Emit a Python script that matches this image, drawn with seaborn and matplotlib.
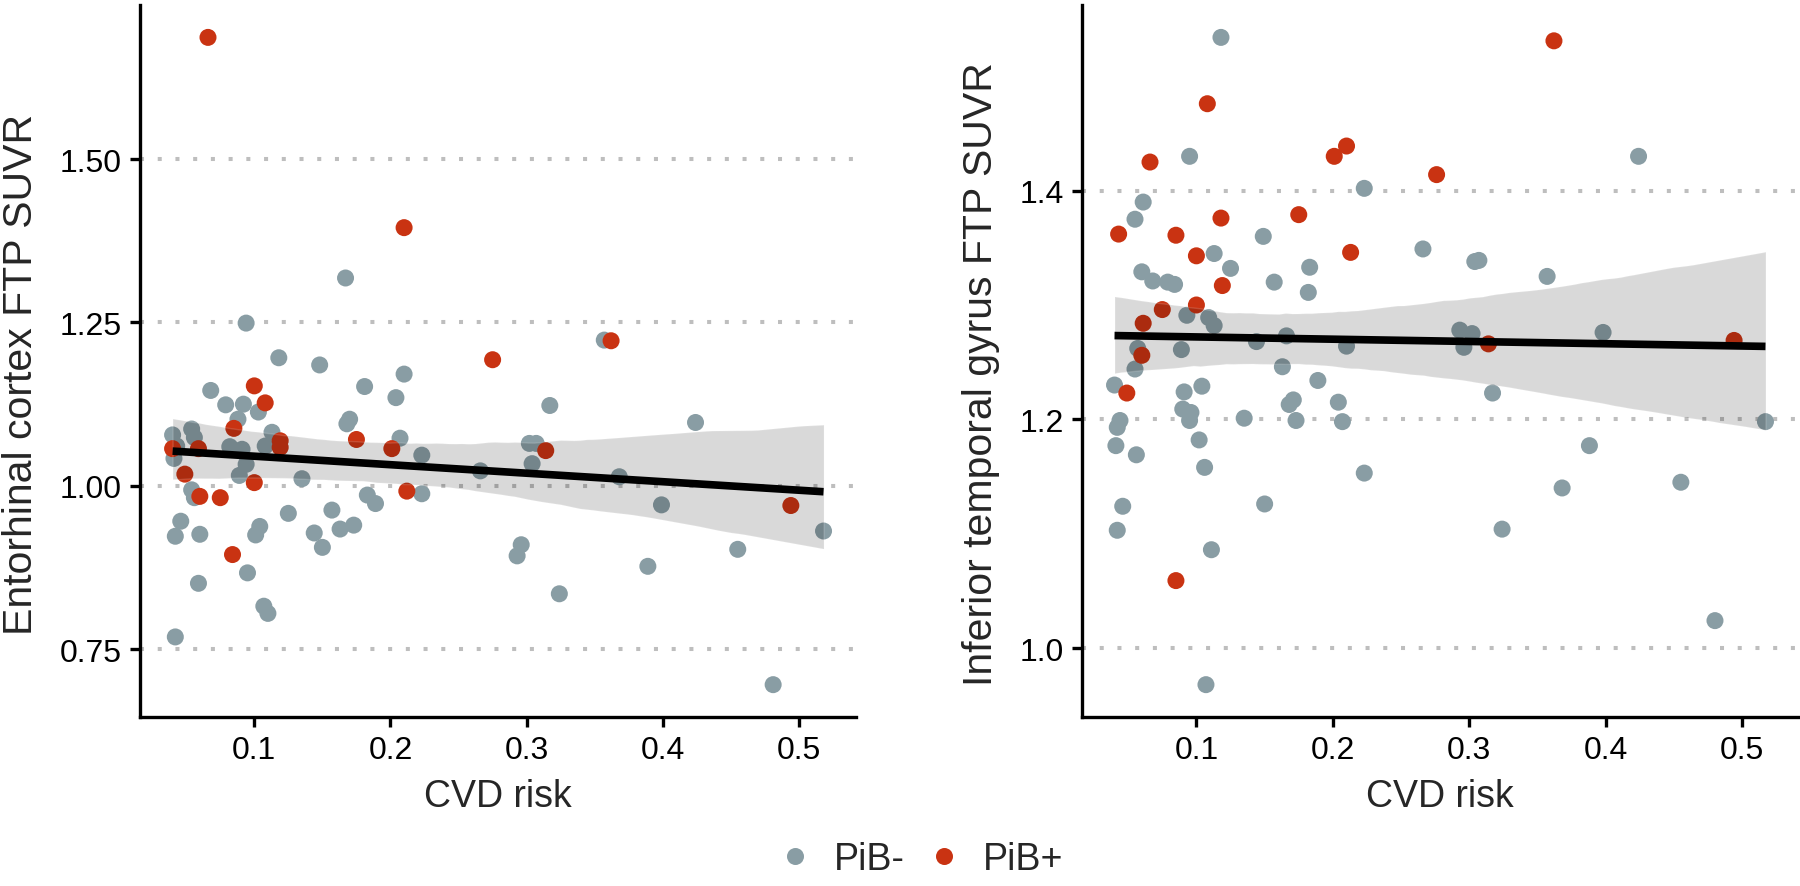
import matplotlib
matplotlib.use("Agg")
import matplotlib.pyplot as plt
import seaborn as sns
import numpy as np
import pandas as pd

# Entorhinal cortex panel
ec_neg_x = [0.167, 0.094, 0.118, 0.148, 0.210, 0.068, 0.079, 0.092, 0.103, 0.088,
            0.181, 0.204, 0.168, 0.170, 0.040, 0.054, 0.056, 0.043, 0.041, 0.082,
            0.091, 0.113, 0.108, 0.094, 0.089, 0.135, 0.054, 0.056, 0.046, 0.125,
            0.042, 0.060, 0.104, 0.101, 0.144, 0.150, 0.157, 0.163, 0.173, 0.183,
            0.189, 0.207, 0.223, 0.223, 0.266, 0.095, 0.059, 0.107, 0.110, 0.042,
            0.357, 0.317, 0.424, 0.302, 0.307, 0.304, 0.368, 0.399, 0.518, 0.296,
            0.293, 0.455, 0.389, 0.324, 0.481]
ec_neg_y = [1.318, 1.249, 1.196, 1.185, 1.171, 1.146, 1.124, 1.125, 1.113, 1.102,
            1.152, 1.135, 1.095, 1.102, 1.078, 1.087, 1.074, 1.061, 1.042, 1.060,
            1.056, 1.082, 1.061, 1.033, 1.016, 1.011, 0.994, 0.982, 0.946, 0.958,
            0.923, 0.926, 0.938, 0.925, 0.928, 0.906, 0.963, 0.934, 0.940, 0.986,
            0.973, 1.073, 1.047, 0.988, 1.023, 0.867, 0.851, 0.816, 0.805, 0.769,
            1.223, 1.123, 1.097, 1.065, 1.065, 1.034, 1.014, 0.971, 0.931, 0.910,
            0.893, 0.903, 0.877, 0.835, 0.696]
ec_pos_x = [0.066, 0.210, 0.275, 0.362, 0.100, 0.108, 0.085, 0.040, 0.059, 0.119,
            0.119, 0.049, 0.100, 0.060, 0.075, 0.175, 0.201, 0.212, 0.084, 0.314,
            0.494]
ec_pos_y = [1.686, 1.395, 1.193, 1.222, 1.153, 1.127, 1.088, 1.057, 1.057, 1.069,
            1.059, 1.018, 1.005, 0.984, 0.982, 1.071, 1.057, 0.992, 0.895, 1.054,
            0.970]

# Inferior temporal gyrus panel
itg_neg_x = [0.118, 0.095, 0.223, 0.061, 0.055, 0.149, 0.266, 0.113, 0.125, 0.183,
             0.060, 0.068, 0.079, 0.084, 0.157, 0.182, 0.093, 0.109, 0.113, 0.144,
             0.166, 0.210, 0.057, 0.089, 0.055, 0.163, 0.189, 0.040, 0.091, 0.104,
             0.090, 0.096, 0.095, 0.044, 0.042, 0.135, 0.102, 0.171, 0.168, 0.204,
             0.173, 0.207, 0.041, 0.056, 0.106, 0.223, 0.150, 0.046, 0.042, 0.111,
             0.107, 0.424, 0.304, 0.307, 0.357, 0.293, 0.302, 0.296, 0.398, 0.317,
             0.517, 0.388, 0.455, 0.368, 0.324, 0.480]
itg_neg_y = [1.534, 1.430, 1.402, 1.390, 1.375, 1.360, 1.349, 1.345, 1.332, 1.333,
             1.329, 1.321, 1.320, 1.318, 1.320, 1.311, 1.291, 1.289, 1.282, 1.268,
             1.273, 1.264, 1.262, 1.261, 1.244, 1.246, 1.234, 1.230, 1.224, 1.229,
             1.209, 1.206, 1.199, 1.199, 1.193, 1.201, 1.182, 1.217, 1.213, 1.215,
             1.199, 1.198, 1.177, 1.169, 1.158, 1.153, 1.126, 1.124, 1.103, 1.086,
             0.968, 1.430, 1.338, 1.339, 1.325, 1.278, 1.275, 1.263, 1.276, 1.223,
             1.198, 1.177, 1.145, 1.140, 1.104, 1.024]
itg_pos_x = [0.108, 0.066, 0.201, 0.210, 0.043, 0.085, 0.118, 0.175, 0.100, 0.213,
             0.119, 0.100, 0.075, 0.061, 0.060, 0.049, 0.085, 0.362, 0.276, 0.314,
             0.494]
itg_pos_y = [1.476, 1.425, 1.430, 1.439, 1.362, 1.361, 1.376, 1.379, 1.343, 1.346,
             1.317, 1.300, 1.296, 1.284, 1.256, 1.223, 1.059, 1.531, 1.414, 1.266,
             1.269]

x_ticks = [0.1, 0.2, 0.3, 0.4, 0.5]
ec_ticks = [0.75, 1.00, 1.25, 1.50]
ec_ticklabels = ["0.75", "1.00", "1.25", "1.50"]
itg_ticks = [1.0, 1.2, 1.4]
itg_ticklabels = ["1.0", "1.2", "1.4"]

groups = ["PiB-", "PiB+"]
palette = {"PiB-": "#899DA4", "PiB+": "#C93312"}


def make_df(nx, ny, px, py):
    return pd.DataFrame({
        "cvd": nx + px,
        "suvr": ny + py,
        "pib": ["PiB-"] * len(nx) + ["PiB+"] * len(px),
    })


sns.set_style("ticks")
plt.rcParams["font.family"] = ["Liberation Sans", "DejaVu Sans"]

fig = plt.figure(figsize=(18, 8.87), dpi=100)
ax1 = fig.add_axes([0.0778, 0.1905, 0.3978, 0.8027])
ax2 = fig.add_axes([0.6011, 0.1905, 0.3978, 0.8027])

panels = [
    (ax1, make_df(ec_neg_x, ec_neg_y, ec_pos_x, ec_pos_y),
     "Entorhinal cortex FTP SUVR", ec_ticks, ec_ticklabels, -0.166),
    (ax2, make_df(itg_neg_x, itg_neg_y, itg_pos_x, itg_pos_y),
     "Inferior temporal gyrus FTP SUVR", itg_ticks, itg_ticklabels, -0.141),
]

handles = labels = None
for ax, df, ylab, yt, ytl, ylab_x in panels:
    sns.scatterplot(data=df, x="cvd", y="suvr", hue="pib", hue_order=groups,
                    palette=palette, s=150, linewidth=0, ax=ax, zorder=1)
    h, l = ax.get_legend_handles_labels()
    if handles is None:
        handles, labels = h, l
    ax.get_legend().remove()

    # fit line + CI band drawn over the points (like ggplot)
    sns.regplot(data=df, x="cvd", y="suvr", scatter=False, ax=ax, color="black",
                ci=95, seed=3, line_kws={"linewidth": 5.5, "solid_capstyle": "butt"})

    # ggplot-ish 5% expansion
    xr = df["cvd"].max() - df["cvd"].min()
    yr = df["suvr"].max() - df["suvr"].min()
    ax.set_xlim(df["cvd"].min() - 0.05 * xr, df["cvd"].max() + 0.05 * xr)
    ax.set_ylim(df["suvr"].min() - 0.05 * yr, df["suvr"].max() + 0.05 * yr)

    ax.set_xticks(x_ticks)
    ax.set_xticklabels([f"{v:.1f}" for v in x_ticks])
    ax.set_yticks(yt)
    ax.set_yticklabels(ytl)

    ax.yaxis.grid(True, linestyle=(0, (1, 3.4)), color="#BEBEBE", linewidth=2.9)
    ax.xaxis.grid(False)
    ax.set_axisbelow(True)

    sns.despine(ax=ax)
    for side in ["left", "bottom"]:
        ax.spines[side].set_linewidth(2.4)
        ax.spines[side].set_color("black")
    ax.tick_params(axis="both", length=7, width=2.4, color="black",
                   labelsize=23, labelcolor="black", pad=6)

    ax.set_xlabel("CVD risk", fontsize=27, va="center")
    ax.xaxis.set_label_coords(0.5, -0.111)
    ax.set_ylabel(ylab, fontsize=29.5, va="center")
    ax.yaxis.set_label_coords(ylab_x, 0.483)

fig.legend(handles, labels, loc="center", bbox_to_anchor=(0.511, 0.03), ncol=2,
           frameon=False, fontsize=27, handlelength=1.0, handletextpad=0.54,
           columnspacing=0.54, markerscale=1.0, borderaxespad=0)

fig.savefig("out.png", dpi=100)
